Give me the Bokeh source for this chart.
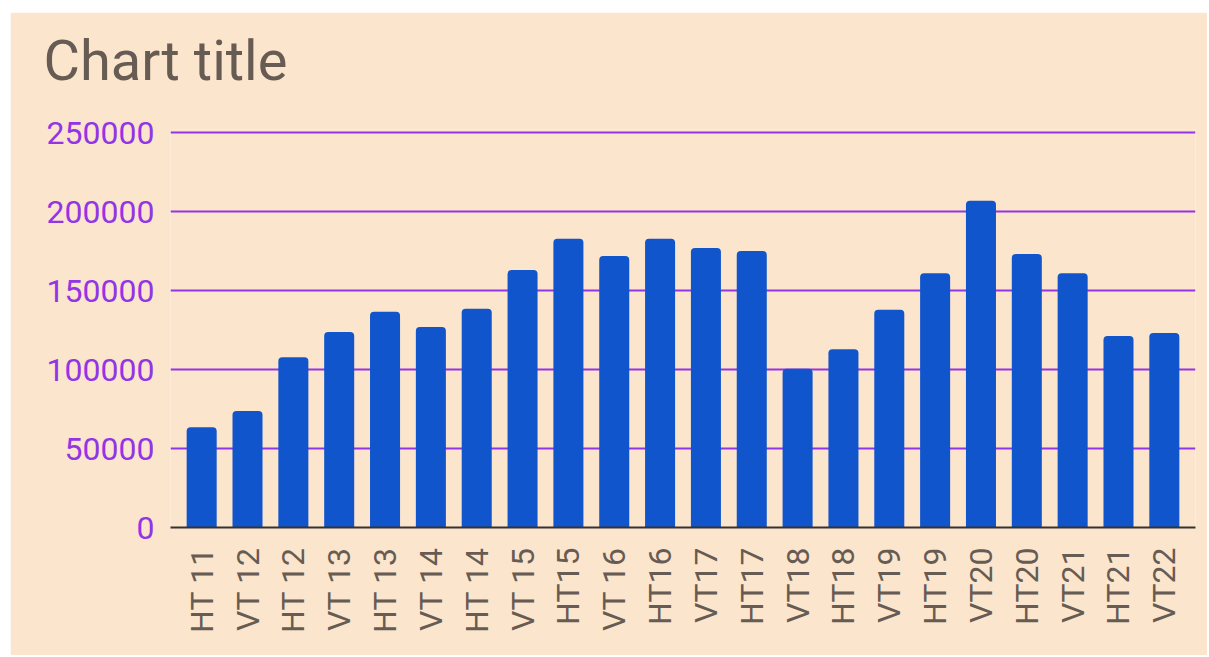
import math
from bokeh.plotting import figure
from bokeh.models import ColumnDataSource, Range1d, FixedTicker, BasicTickFormatter, Title
from bokeh.embed import file_html
from bokeh.resources import INLINE

categories = ["HT 11", "VT 12", "HT 12", "VT 13", "HT 13", "VT 14", "HT 14", "VT 15",
              "HT15", "VT 16", "HT16", "VT17", "HT17", "VT18", "HT18", "VT19",
              "HT19", "VT20", "HT20", "VT21", "HT21", "VT22"]
values = [63500, 73700, 107700, 123700, 136500, 126900, 138500, 163000,
          182700, 171800, 182700, 176900, 175000, 100500, 112800, 137800,
          160900, 206800, 173100, 160900, 121200, 123100]
y_ticks = [0, 50000, 100000, 150000, 200000, 250000]
title_text = "Chart title"

BG = "#FCE5CD"
PURPLE = "#9334E6"
TEXT = "#675C53"

idx = list(range(len(categories)))
src = ColumnDataSource(dict(x=idx, top=values))

p = figure(width=1197, height=643, output_backend="svg", toolbar_location=None,
           x_range=Range1d(-0.68, len(categories) - 1 + 0.68),
           y_range=Range1d(0, 251900),
           min_border_left=160, min_border_right=12, min_border_top=117,
           min_border_bottom=128)
p.title = None
p.margin = (12, 0, 0, 10)
p.background_fill_color = BG
p.border_fill_color = BG
p.outline_line_color = None

spacer = Title(text=" ", text_font_size="1px", standoff=33)
p.add_layout(spacer, "above")
main_title = Title(text=title_text, text_font="Roboto", text_font_size="56px",
                   text_font_style="normal", text_color=TEXT, align="left",
                   offset=-127, standoff=0)
p.add_layout(main_title, "above")

p.vbar(x="x", top="top", bottom=0, width=0.655, source=src,
       fill_color="#1155CC", line_color=None, border_radius=(4, 4, 0, 0))

p.xgrid.grid_line_color = None
p.ygrid.grid_line_color = PURPLE
p.ygrid.grid_line_width = 2
p.ygrid.ticker = FixedTicker(ticks=y_ticks)

xa = p.xaxis[0]
xa.ticker = FixedTicker(ticks=idx)
xa.major_label_overrides = {i: c for i, c in enumerate(categories)}
xa.major_label_orientation = math.pi / 2
xa.major_label_text_font = "Roboto"
xa.major_label_text_font_size = "32px"
xa.major_label_text_color = TEXT
xa.major_tick_line_color = None
xa.minor_tick_line_color = None
xa.major_tick_out = 0
xa.major_label_standoff = 20
xa.axis_line_color = "#333333"
xa.axis_line_width = 2

ya = p.yaxis[0]
ya.ticker = FixedTicker(ticks=y_ticks)
ya.formatter = BasicTickFormatter(use_scientific=False)
ya.major_label_text_font = "Roboto"
ya.major_label_text_font_size = "32px"
ya.major_label_text_color = PURPLE
ya.axis_line_color = None
ya.major_tick_line_color = None
ya.minor_tick_line_color = None
ya.major_tick_out = 0
ya.major_label_standoff = 16

open("out.html", "w").write(file_html(p, INLINE))
